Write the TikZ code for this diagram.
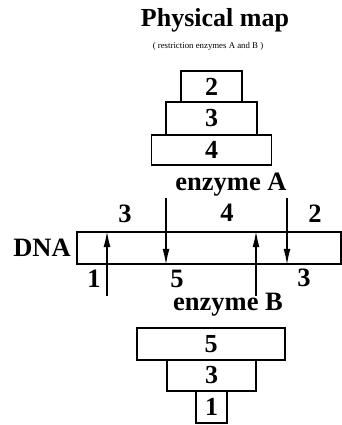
\documentclass[tikz,border=0pt]{standalone}
\usepackage{fontspec}
\setmainfont{Liberation Serif}
\usepackage{tikz}
\usetikzlibrary{arrows.meta}

\tikzset{
    frag/.style={draw, line width=1.6pt, inner sep=0pt, font=\fontsize{26}{26}\selectfont\bfseries},
    lbl/.style={inner sep=0pt, font=\fontsize{26.5}{26.5}\selectfont\bfseries},
    cut/.style={line width=1.4pt, -{Latex[length=16pt,width=7pt]}}
}

\begin{document}
\begin{tikzpicture}[x=1pt, y=-1pt]
            \useasboundingbox (0,0) rectangle (342,425);

            % titles
            \node[lbl, font=\fontsize{26}{26}\selectfont\bfseries] (title) at (215,20) {Physical map};
            \node[inner sep=0pt, font=\fontsize{8.8}{10}\selectfont] (sub) at (208,46) {( restriction enzymes A and B )};

            % fragments of enzyme A
            \node[frag, minimum width=61, minimum height=31] (a2) at (211.5,86.5) {2};
            \node[frag, minimum width=91, minimum height=33] (a3) at (211.5,118.5) {3};
            \node[frag, minimum width=120, minimum height=30] (a4) at (211.5,150) {4};

            % the DNA
            \node[draw, line width=1.6pt, minimum width=264, minimum height=32] (dna) at (209,248) {};
            \node[lbl] (dnalbl) at (42,248) {DNA};

            \node[lbl] (enzA) at (231,185) {enzyme A};
            \node[lbl] (enzB) at (228,305) {enzyme B};

            % cuts of enzyme A (down) and B (up)
            \foreach \x/\n in {166/ca1, 287/ca2}{
                \coordinate (\n) at (\x,198);
                \draw[cut] (\n) -- (\n |- dna.south);
            }
            \foreach \x/\n in {107/cb1, 256/cb2}{
                \coordinate (\n) at (\x,296);
                \draw[cut] (\n) -- (\n |- dna.north);
            }

            % fragment labels
            \node[lbl] (t3) at (125,214) {3};
            \node[lbl] (t4) at (227,213) {4};
            \node[lbl] (t2) at (315,214) {2};
            \node[lbl] (b1) at (94,279) {1};
            \node[lbl] (b5) at (177,279) {5};
            \node[lbl] (b3) at (304,278) {3};

            % fragments of enzyme B
            \node[frag, minimum width=148, minimum height=32] (f5) at (211,344) {5};
            \node[frag, minimum width=89, minimum height=31] (f3) at (211.5,375.5) {3};
            \node[frag, minimum width=31, minimum height=32] (f1) at (211.5,407) {1};
        \end{tikzpicture}
\end{document}
